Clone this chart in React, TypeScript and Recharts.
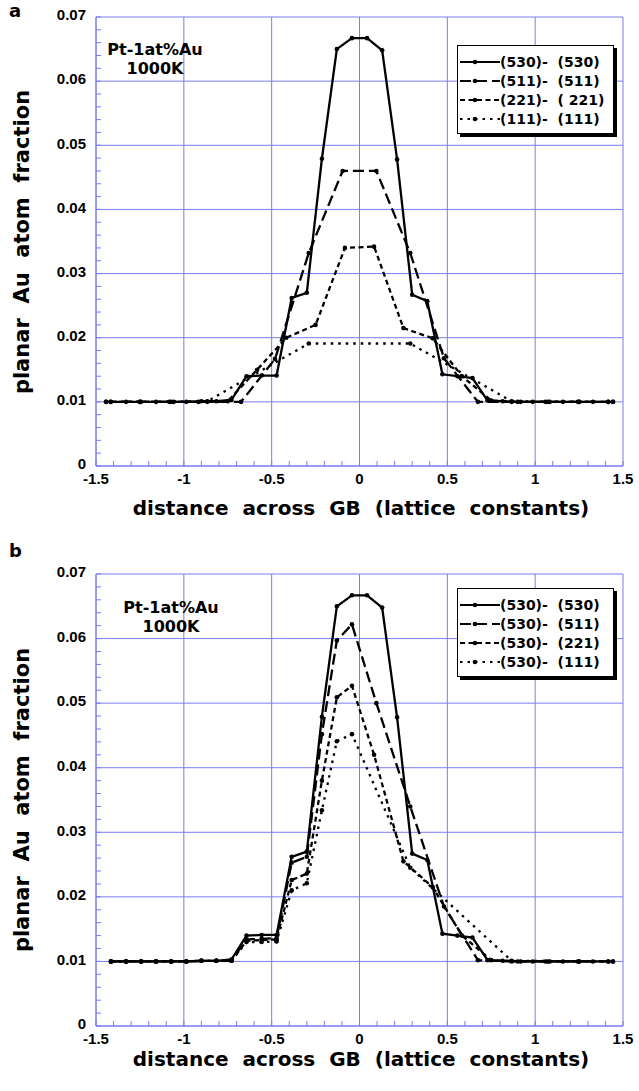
import React from 'react';
import { CartesianGrid, Line, LineChart, XAxis, YAxis } from 'recharts';

const TICK_FONT = '"Liberation Sans", Arial, sans-serif';
const TEXT_FONT = '"DejaVu Sans", sans-serif';
const BLUE = '#7b7bf0';

// plane positions across the boundary, in lattice constants
const x530 = [-1.415, -1.329, -1.243, -1.158, -1.072, -0.986, -0.9, -0.815, -0.729, -0.643, -0.557, -0.472, -0.386, -0.3, -0.214, -0.129, -0.043,
  0.043, 0.129, 0.214, 0.3, 0.386, 0.472, 0.557, 0.643, 0.729, 0.815, 0.9, 0.986, 1.072, 1.158, 1.243, 1.329, 1.415];
const x511 = [-1.443, -1.251, -1.058, -0.866, -0.674, -0.481, -0.289, -0.096, 0.096, 0.289, 0.481, 0.674, 0.866, 1.058, 1.251, 1.443];
const x221 = [-1.417, -1.25, -1.083, -0.917, -0.75, -0.583, -0.417, -0.25, -0.083, 0.083, 0.25, 0.417, 0.583, 0.75, 0.917, 1.083, 1.25, 1.417];
const x111 = [-1.443, -0.866, -0.289, 0.289, 0.866, 1.443];

// panel a: symmetric boundaries
const a530 = [0.01, 0.01, 0.01, 0.01, 0.01, 0.01, 0.0101, 0.0101, 0.0103, 0.014, 0.0141, 0.0141, 0.0262, 0.027, 0.0479, 0.065, 0.0667,
  0.0667, 0.0648, 0.0478, 0.0267, 0.0257, 0.0143, 0.014, 0.0137, 0.0102, 0.0101, 0.01, 0.01, 0.01, 0.01, 0.01, 0.01, 0.01];
const a511 = [0.01, 0.01, 0.01, 0.01, 0.01, 0.0167, 0.0332, 0.046, 0.046, 0.0332, 0.0168, 0.01, 0.01, 0.01, 0.01, 0.01];
const a221 = [0.01, 0.01, 0.01, 0.01, 0.0101, 0.015, 0.02, 0.022, 0.034, 0.0342, 0.0215, 0.0199, 0.014, 0.0102, 0.01, 0.01, 0.01, 0.01];
const a111 = [0.01, 0.0101, 0.0191, 0.0191, 0.0101, 0.01];

// panel b: (530) grain on the left, second grain on the right
const b511Left = [0.01, 0.01, 0.01, 0.01, 0.01, 0.01, 0.0101, 0.0101, 0.0101, 0.0134, 0.0135, 0.0136, 0.0253, 0.0262, 0.0452, 0.0597, 0.0622];
const b511Right = [0.05, 0.034, 0.0185, 0.0102, 0.01, 0.01, 0.01, 0.01];
const b221Left = [0.01, 0.01, 0.01, 0.01, 0.01, 0.01, 0.0101, 0.0101, 0.0101, 0.0132, 0.0133, 0.0134, 0.0226, 0.0236, 0.038, 0.0509, 0.0527];
const b221Right = [0.042, 0.0255, 0.0215, 0.014, 0.0102, 0.01, 0.01, 0.01, 0.01];
const b111Left = [0.01, 0.01, 0.01, 0.01, 0.01, 0.01, 0.0101, 0.0101, 0.0101, 0.013, 0.013, 0.0131, 0.021, 0.0221, 0.0334, 0.0441, 0.0452];
const b111Right = [0.0245, 0.0101, 0.01];

const legendA = ['(530)-  (530)', '(511)-  (511)', '(221)-  ( 221)', '(111)-  (111)'];
const legendB = ['(530)-  (530)', '(530)-  (511)', '(530)-  (221)', '(530)-  (111)'];

const xMajor = [-1.5, -1, -0.5, 0, 0.5, 1, 1.5];
const yMajor = [0, 0.01, 0.02, 0.03, 0.04, 0.05, 0.06, 0.07];
const xMinor = Array.from({ length: 31 }, (_, i) => +(-1.5 + i * 0.1).toFixed(1));
const yMinor = Array.from({ length: 36 }, (_, i) => +(i * 0.002).toFixed(3));

const dashes = ['', '11 5', '5 3.5', '2.5 5'];

const zip = (xs: number[], ys: number[]) => xs.map((x, i) => ({ x, y: ys[i] }));

const seriesA = [zip(x530, a530), zip(x511, a511), zip(x221, a221), zip(x111, a111)];
const seriesB = [
  zip(x530, a530),
  zip(x530.slice(0, 17).concat(x511.slice(8)), b511Left.concat(b511Right)),
  zip(x530.slice(0, 17).concat(x221.slice(9)), b221Left.concat(b221Right)),
  zip(x530.slice(0, 17).concat(x111.slice(3)), b111Left.concat(b111Right)),
];

const isMajorX = (v: number) => Math.abs(v * 2 - Math.round(v * 2)) < 1e-6;
const isMajorY = (v: number) => Math.abs(v * 100 - Math.round(v * 100)) < 1e-6;

const tickStyle = { fill: '#000', fontSize: 15, fontWeight: 'bold', fontFamily: TICK_FONT };
const textStyle: React.CSSProperties = { position: 'absolute', fontFamily: TEXT_FONT, fontWeight: 'bold', color: '#000', whiteSpace: 'pre' };

type PanelProps = {
  letter: string;
  data: { x: number; y: number }[][];
  legend: string[];
  top: number;
  height: number;
  marginTop: number;
  axisHeight: number;
  legendTop: number;
  noteLeft: number;
  noteTop: number;
};

const Panel = ({ letter, data, legend, top, height, marginTop, axisHeight, legendTop, noteLeft, noteTop }: PanelProps) => {
  const plotMid = marginTop + (height - marginTop - axisHeight) / 2;
  return (
    <div style={{ position: 'absolute', left: 0, top, width: 639, height }}>
      <LineChart width={639} height={height} margin={{ top: marginTop, right: 16, left: 0, bottom: 0 }}>
        <CartesianGrid stroke={BLUE} strokeWidth={1} horizontalValues={yMajor} verticalValues={xMajor} />
        <XAxis
          dataKey="x"
          type="number"
          domain={[-1.5, 1.5]}
          ticks={xMinor}
          interval={0}
          height={axisHeight}
          tickSize={-5}
          tickMargin={12}
          axisLine={{ stroke: BLUE }}
          tickLine={{ stroke: BLUE }}
          tick={tickStyle}
          tickFormatter={v => (isMajorX(v) ? String(Math.round(v * 2) / 2) : '')}
          allowDataOverflow
        />
        <XAxis
          xAxisId="top"
          orientation="top"
          type="number"
          domain={[-1.5, 1.5]}
          ticks={xMinor}
          interval={0}
          height={0}
          tickSize={-5}
          tick={false}
          axisLine={{ stroke: BLUE }}
          tickLine={{ stroke: BLUE }}
        />
        <YAxis
          type="number"
          domain={[0, 0.07]}
          ticks={yMinor}
          interval={0}
          width={96}
          tickSize={-5}
          tickMargin={15}
          axisLine={{ stroke: BLUE }}
          tickLine={{ stroke: BLUE }}
          tick={{ ...tickStyle, dy: -2 }}
          tickFormatter={v => (isMajorY(v) ? (v === 0 ? '0' : v.toFixed(2)) : '')}
        />
        <YAxis
          yAxisId="right"
          orientation="right"
          type="number"
          domain={[0, 0.07]}
          ticks={yMinor}
          interval={0}
          width={0}
          tickSize={-5}
          tick={false}
          axisLine={{ stroke: BLUE }}
          tickLine={{ stroke: BLUE }}
        />
        {data.map((d, i) => (
          <Line
            key={i}
            data={d}
            dataKey="y"
            type="linear"
            stroke="#000"
            strokeWidth={2.3}
            strokeDasharray={dashes[i]}
            dot={{ r: 2.3, fill: '#000', stroke: 'none' }}
            activeDot={false}
            isAnimationActive={false}
          />
        ))}
      </LineChart>

      <div style={{ ...textStyle, left: 9, top: 0, fontSize: 18 }}>{letter}</div>
      <div style={{ ...textStyle, left: noteLeft, top: noteTop, width: 120, fontSize: 16, lineHeight: '19px', textAlign: 'center' }}>
        {'Pt-1at%Au\n1000K'}
      </div>
      <div
        style={{
          ...textStyle,
          left: 22 - 200,
          top: plotMid - 13,
          width: 400,
          lineHeight: '26px',
          fontSize: 21,
          textAlign: 'center',
          transform: 'rotate(-90deg)',
        }}
      >
        {'planar  Au  atom  fraction'}
      </div>
      <div style={{ ...textStyle, left: 100, width: 522, top: height - 44, fontSize: 20, textAlign: 'center' }}>
        {'distance  across  GB  (lattice  constants)'}
      </div>

      <div
        style={{
          position: 'absolute',
          left: 457,
          top: legendTop,
          width: 157,
          height: 89,
          boxSizing: 'border-box',
          border: '1.5px solid #000',
          boxShadow: '3px 3px 0 #000',
          background: '#fff',
          paddingTop: 6,
        }}
      >
        {legend.map((name, i) => (
          <div key={name} style={{ display: 'flex', alignItems: 'center', height: 19 }}>
            <svg width={40} height={10} style={{ marginLeft: 2 }}>
              <line x1={0} y1={5} x2={40} y2={5} stroke="#000" strokeWidth={2} strokeDasharray={dashes[i]} />
              <circle cx={15} cy={5} r={2.3} fill="#000" />
            </svg>
            <span style={{ fontFamily: TEXT_FONT, fontWeight: 'bold', fontSize: 14, whiteSpace: 'pre' }}>{name}</span>
          </div>
        ))}
      </div>
    </div>
  );
};

export default function App() {
  return (
    <div style={{ position: 'absolute', left: 0, top: 0, width: 639, height: 1091, background: '#fff' }}>
      <Panel letter="a" data={seriesA} legend={legendA} top={0} height={540} marginTop={17} axisHeight={74}
        legendTop={45} noteLeft={95} noteTop={40} />
      <Panel letter="b" data={seriesB} legend={legendB} top={540} height={551} marginTop={34} axisHeight={65}
        legendTop={48} noteLeft={111} noteTop={58} />
    </div>
  );
}
